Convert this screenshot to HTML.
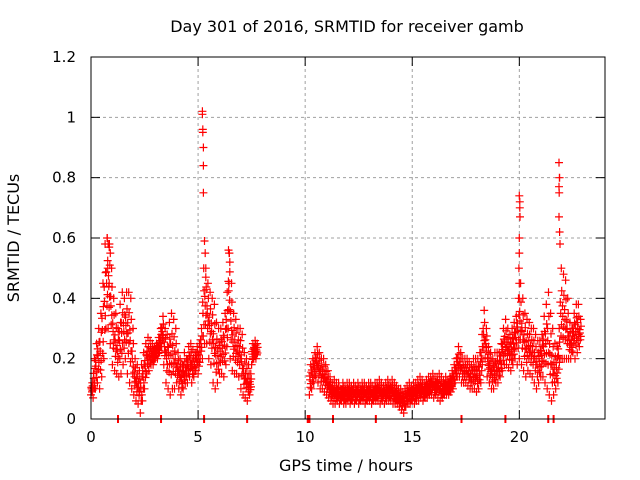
<!DOCTYPE html>
<html><head><meta charset="utf-8"><style>
body{margin:0;background:#fff}
svg{display:block;font-family:"DejaVu Sans","Liberation Sans",sans-serif}
</style></head><body>
<svg id="chart" width="640" height="480" viewBox="0 0 640 480">
<rect width="640" height="480" fill="#fff"/>
<text x="347" y="32" font-size="16" text-anchor="middle">Day 301 of 2016, SRMTID for receiver gamb</text>
<text x="346" y="471" font-size="16" text-anchor="middle">GPS time / hours</text>
<text transform="translate(19,238) rotate(-90)" font-size="16" text-anchor="middle">SRMTID / TECUs</text>
<g id="grid"></g>
<g id="ticks"></g>
<g id="points"></g>
<rect x="91" y="57" width="514" height="362" fill="none" stroke="#000" stroke-width="1"/>
</svg>
<script>
const xTicks=[0,5,10,15,20];
const yTicks=[0,0.2,0.4,0.6,0.8,1,1.2];
const yTickLabels=["0","0.2","0.4","0.6","0.8","1","1.2"];
const seg1Start=0;
const seg1Upper=[0.12,0.2,0.25,0.3,0.35,0.45,0.58,0.6,0.58,0.5,
0.4,0.35,0.3,0.38,0.42,0.4,0.42,0.42,0.4,0.3,
0.2,0.18,0.16,0.18,0.22,0.25,0.27,0.26,0.25,0.24,
0.25,0.27,0.3,0.34,0.3,0.28,0.32,0.35,0.33,0.3,
0.22,0.2,0.18,0.22,0.2,0.24,0.25,0.23,0.22,0.24,
0.25,0.3,0.5,0.5,0.45,0.42,0.4,0.38,0.32,0.3,
0.3,0.32,0.35,0.42,0.55,0.45,0.35,0.33,0.3,0.3,
0.28,0.22,0.2,0.18,0.15,0.25,0.26,0.25];
const seg1Lower=[0.08,0.07,0.1,0.12,0.1,0.14,0.2,0.3,0.3,0.25,
0.18,0.16,0.15,0.14,0.15,0.18,0.2,0.15,0.12,0.1,
0.08,0.06,0.05,0.02,0.06,0.1,0.15,0.16,0.18,0.18,
0.2,0.2,0.22,0.24,0.18,0.12,0.1,0.08,0.1,0.1,
0.12,0.1,0.08,0.1,0.12,0.12,0.14,0.12,0.14,0.16,
0.15,0.2,0.2,0.25,0.25,0.2,0.18,0.12,0.1,0.12,
0.15,0.15,0.14,0.18,0.3,0.2,0.16,0.15,0.15,0.14,
0.1,0.08,0.07,0.06,0.08,0.18,0.2,0.2];
const seg2Start=10.2;
const seg2Upper=[0.18,0.2,0.22,0.24,0.22,0.2,0.2,0.18,
0.16,0.14,0.12,0.13,0.12,0.12,0.1,0.12,0.11,0.12,
0.12,0.11,0.12,0.11,0.12,0.11,0.12,0.12,0.11,0.12,
0.12,0.11,0.12,0.12,0.13,0.12,0.11,0.12,0.13,0.12,
0.13,0.12,0.11,0.1,0.1,0.09,0.1,0.11,0.12,0.11,
0.12,0.12,0.13,0.14,0.13,0.12,0.13,0.14,0.14,0.15,
0.14,0.14,0.15,0.14,0.13,0.14,0.13,0.14,0.16,0.18,
0.2,0.24,0.22,0.2,0.2,0.2,0.19,0.18,0.2,0.2,
0.2,0.22,0.28,0.36,0.3,0.24,0.22,0.2,0.22,0.22,
0.22,0.25,0.3,0.33,0.3,0.28,0.3,0.32,0.34,0.4,
0.45,0.4,0.35,0.33,0.32,0.3,0.3,0.28,0.26,0.26,
0.28,0.34,0.38,0.42,0.35,0.3,0.25,0.24,0.3,0.5,
0.48,0.46,0.4,0.32,0.3,0.35,0.38,0.38,0.33];
const seg2Lower=[0.08,0.1,0.12,0.14,0.12,0.1,0.1,0.09,
0.08,0.07,0.06,0.05,0.05,0.06,0.05,0.06,0.05,0.05,
0.06,0.05,0.06,0.05,0.06,0.05,0.06,0.06,0.05,0.06,
0.06,0.05,0.06,0.06,0.06,0.05,0.06,0.05,0.06,0.06,
0.06,0.05,0.05,0.05,0.04,0.03,0.02,0.04,0.05,0.05,
0.06,0.05,0.06,0.06,0.07,0.06,0.07,0.07,0.08,0.08,
0.07,0.08,0.07,0.06,0.07,0.08,0.08,0.08,0.09,0.1,
0.12,0.14,0.14,0.12,0.12,0.12,0.11,0.1,0.1,0.1,
0.09,0.1,0.12,0.2,0.2,0.14,0.12,0.1,0.1,0.12,
0.12,0.14,0.16,0.18,0.18,0.17,0.16,0.18,0.2,0.18,
0.2,0.18,0.16,0.14,0.16,0.15,0.14,0.12,0.1,0.12,
0.14,0.14,0.12,0.1,0.08,0.06,0.08,0.1,0.12,0.2,
0.2,0.2,0.2,0.2,0.2,0.22,0.2,0.22,0.24];
const spikeTimes=[5.2,5.2,5.22,5.22,5.25,5.25,5.25,5.3,5.33,5.36,5.38,
20.0,20.02,20.02,20.03,20.0,20.0,19.98,20.0,20.0,
21.85,21.87,21.88,21.85,21.86,21.85,21.88,21.9,
0.75,0.8,0.85,0.9,0.78,0.85,6.42,6.45,6.48,6.45];
const spikeValues=[1.02,1.01,0.96,0.95,0.9,0.84,0.75,0.59,0.55,0.47,0.43,
0.74,0.72,0.7,0.67,0.6,0.55,0.5,0.45,0.4,
0.85,0.8,0.8,0.77,0.75,0.67,0.62,0.58,
0.6,0.58,0.57,0.55,0.5,0.45,0.56,0.55,0.52,0.45];
const zeroTimes=[1.26,3.27,5.28,7.29,10.12,10.2,11.3,13.3,17.3,19.35,21.35,21.6];

const NS='http://www.w3.org/2000/svg';
const X=t=>91+t*514/24;
const Y=v=>419-v*362/1.2;
const grid=document.getElementById('grid'),ticks=document.getElementById('ticks'),pts=document.getElementById('points');
function ln(g,x1,y1,x2,y2,st,dash){const l=document.createElementNS(NS,'line');l.setAttribute('x1',x1);l.setAttribute('y1',y1);l.setAttribute('x2',x2);l.setAttribute('y2',y2);l.setAttribute('stroke',st);if(dash)l.setAttribute('stroke-dasharray',dash);g.appendChild(l);return l;}
function tx(x,y,s,anchor){const t=document.createElementNS(NS,'text');t.setAttribute('x',x);t.setAttribute('y',y);t.setAttribute('font-size','15');t.setAttribute('text-anchor',anchor);t.textContent=s;ticks.appendChild(t);return t;}
xTicks.forEach(v=>{const x=X(v);
if(v>0){const g=ln(grid,x,57,x,419,'#a0a0a0','3,3');

}
ln(ticks,x,419,x,410,'#000');ln(ticks,x,57,x,66,'#000');
const t=tx(x,442,String(v),'middle');

});
yTicks.forEach((v,i)=>{const y=Y(v);
if(v>0&&v<1.2){const g=ln(grid,91,y,605,y,'#a0a0a0','3,3');

}
ln(ticks,91,y,100,y,'#000');ln(ticks,605,y,596,y,'#000');
const t=tx(76,y+5,yTickLabels[i],'end');

});
let d='';
function plus(t,v){const x=X(t),y=Y(v);d+=`M${(x-4).toFixed(1)},${y.toFixed(1)}h8M${x.toFixed(1)},${(y-4).toFixed(1)}v8`;}
function seg(start,up,lo){up.forEach((u,i)=>{const l=lo[i],t=start+i*0.1,m=(u+l)/2;
plus(t,l);plus(t+0.03,m);plus(t+0.06,u);plus(t+0.045,(m+l)/2);plus(t+0.08,(m+u)/2);plus(t+0.015,(m*3+u)/4);plus(t+0.07,(m*3+l)/4);});}
seg(seg1Start,seg1Upper,seg1Lower);
seg(seg2Start,seg2Upper,seg2Lower);
spikeTimes.forEach((t,i)=>plus(t,spikeValues[i]));
const p=document.createElementNS(NS,'path');p.setAttribute('d',d);p.setAttribute('stroke','#f00');p.setAttribute('stroke-width','1.2');p.setAttribute('fill','none');


pts.appendChild(p);
zeroTimes.forEach(t=>{const l=ln(pts,X(t),415,X(t),423,'#f00');l.setAttribute('stroke-width','2');

});
</script>
</body></html>
